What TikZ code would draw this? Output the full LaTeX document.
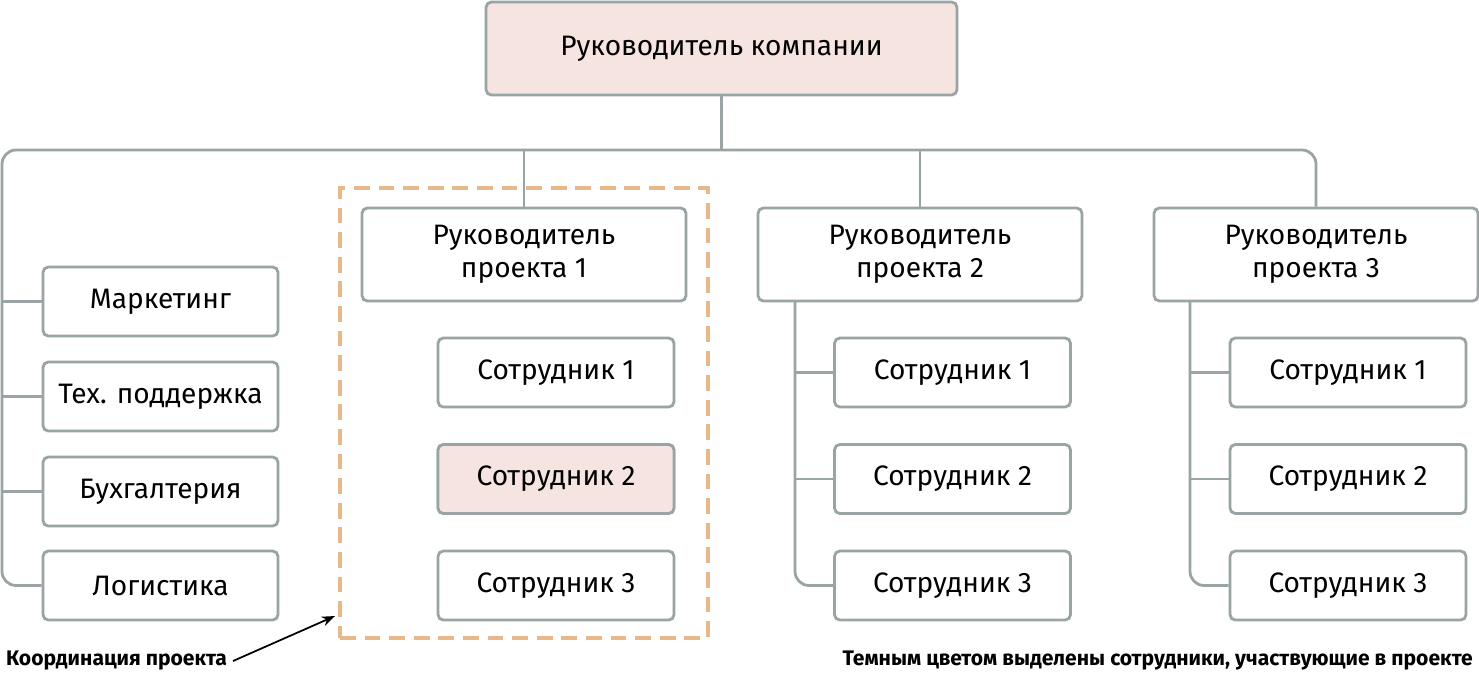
\documentclass[tikz,border=0pt]{standalone}
\usepackage{fontspec}
\setmainfont{Fira Sans}
\usetikzlibrary{arrows.meta, positioning}
\definecolor{linegray}{HTML}{9AA4A4}
\definecolor{pinkfill}{HTML}{F5E4E0}
\definecolor{dashorange}{HTML}{E6B88A}
\begin{document}
\begin{tikzpicture}[
		x=0.02cm, y=-0.02cm,
		font=\fontsize{16}{19}\selectfont,
		>=Stealth,
		box/.style={draw=linegray, line width=1.6pt, rounded corners=3pt, fill=white, align=center, inner sep=0pt},
		link/.style={draw=linegray, line width=1.6pt, rounded corners=8pt}
		]
		\useasboundingbox (0,0) rectangle (1479,677);
		
		% --- top ---
		\node[box, fill=pinkfill, minimum width=9.42cm, minimum height=1.86cm] (boss) at (721.5,48.5) {Руководитель компании};
		
		% --- departments ---
		\foreach \name/\txt/\yy in {mark/Маркетинг/301.5, tech/Тех. поддержка/396.5, buh/Бухгалтерия/491.5, log/Логистика/585.5}
		\node[box, minimum width=4.7cm, minimum height=1.38cm] (\name) at (160.5,\yy) {\txt};
		
		% --- project heads ---
		\foreach \i/\xx in {1/524, 2/920, 3/1316}
		\node[box, minimum width=6.48cm, minimum height=1.86cm] (pm\i) at (\xx,254.5) {Руководитель\\проекта \i};
		
		% --- employees ---
		\foreach \i/\xx in {1/556, 2/952.5, 3/1348}
		\foreach \j/\yy in {1/372.5, 2/479, 3/585.5}
		\node[box, minimum width=4.72cm, minimum height=1.38cm] (e\i\j) at (\xx,\yy) {Сотрудник \j};
		\node[box, fill=pinkfill, minimum width=4.72cm, minimum height=1.38cm] at (e12) {Сотрудник 2};
		
		% --- connectors ---
		\coordinate (bus) at (721.5,150);
		\draw[link] (boss.south) -- (bus);
		\draw[link] (log.west) -| (2,150) -| (pm3.north);
		\draw[link] (bus -| pm1.north) -- (pm1.north);
		\draw[link] (bus -| pm2.north) -- (pm2.north);
		\foreach \name in {mark, tech, buh}
		\draw[link] (2,0 |- \name.west) -- (\name.west);
		\draw[link] (795,301) |- (e23.west);
		\draw[link] (1190,301) |- (e33.west);
		\foreach \j in {1,2}{
			\draw[link] (795,0 |- e2\j.west) -- (e2\j.west);
			\draw[link] (1190,0 |- e3\j.west) -- (e3\j.west);
		}
		
		% --- project coordination ---
		\node[draw=dashorange, dashed, dash pattern=on 9pt off 5pt, line width=1.8pt, minimum width=7.36cm, minimum height=9cm, inner sep=0pt] (coord) at (524,413) {};
		\node[anchor=west, font=\bfseries\fontsize{12}{14}\selectfont] (note1) at (0,661) {Координация проекта};
		\draw[->, line width=1pt] (note1.east) -- (335,616);
		\node[anchor=east, font=\bfseries\fontsize{12}{14}\selectfont] (note2) at (1479,661) {Темным цветом выделены сотрудники, участвующие в проекте};
		
	\end{tikzpicture}
\end{document}
